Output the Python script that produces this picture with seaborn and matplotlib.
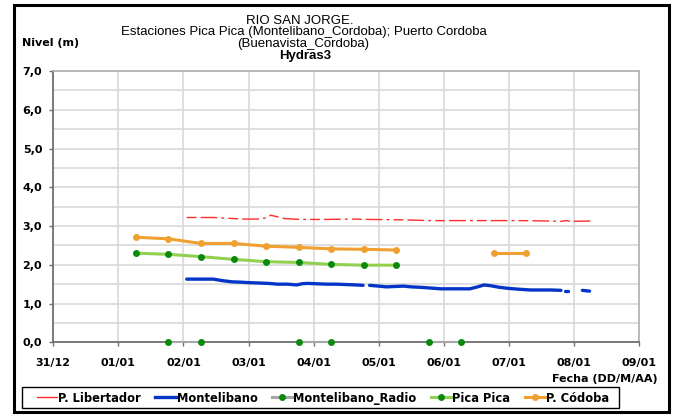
import matplotlib
matplotlib.use("Agg")
import matplotlib.pyplot as plt
from matplotlib.lines import Line2D
from matplotlib.patches import Rectangle
import pandas as pd
import seaborn as sns

# Axis labels (one x unit per labelled date tick)
date_labels = ["31/12", "01/01", "02/01", "03/01", "04/01",
               "05/01", "06/01", "07/01", "08/01", "09/01"]
level_labels = ["0,0", "1,0", "2,0", "3,0", "4,0", "5,0", "6,0", "7,0"]

# P. Córdoba (two separate runs)
cordoba_x = [1.27, 1.77, 2.27, 2.77, 3.27, 3.77, 4.27, 4.77, 5.27, 6.77, 7.27]
cordoba_y = [2.71, 2.67, 2.55, 2.55, 2.48, 2.45, 2.41, 2.40, 2.38, 2.30, 2.30]
cordoba_run = [0, 0, 0, 0, 0, 0, 0, 0, 0, 1, 1]

# Pica Pica
picapica_x = [1.27, 1.77, 2.27, 2.77, 3.27, 3.77, 4.27, 4.77, 5.27]
picapica_y = [2.30, 2.27, 2.21, 2.14, 2.08, 2.06, 2.01, 1.99, 1.99]

# Montelibano_Radio (pairs of readings)
radio_x = [1.77, 2.27, 3.77, 4.27, 5.77, 6.27]
radio_y = [0.0, 0.0, 0.0, 0.0, 0.0, 0.0]
radio_run = [0, 0, 1, 1, 2, 2]

# Montelibano
montelibano_x = [2.05, 2.20, 2.35, 2.46, 2.60, 2.75, 2.90, 3.00, 3.15, 3.30,
                 3.45, 3.60, 3.74, 3.82, 3.90, 4.05, 4.20, 4.35, 4.50, 4.65,
                 4.76,
                 4.86, 5.00, 5.12, 5.25, 5.38, 5.50, 5.63, 5.80, 5.95, 6.10,
                 6.25, 6.40, 6.52, 6.62, 6.72, 6.85, 7.00, 7.15, 7.33, 7.50,
                 7.65, 7.80,
                 7.86, 7.91,
                 8.13, 8.24]
montelibano_y = [1.63, 1.63, 1.63, 1.63, 1.59, 1.56, 1.55, 1.54, 1.53, 1.52,
                 1.50, 1.50, 1.48, 1.51, 1.52, 1.51, 1.50, 1.50, 1.49, 1.48,
                 1.47,
                 1.47, 1.45, 1.43, 1.44, 1.45, 1.43, 1.42, 1.40, 1.38, 1.38,
                 1.38, 1.38, 1.43, 1.48, 1.46, 1.42, 1.39, 1.37, 1.35, 1.35,
                 1.35, 1.34,
                 1.33, 1.33,
                 1.34, 1.32]
montelibano_run = [0] * 21 + [1] * 22 + [2] * 2 + [3] * 2

# P. Libertador
libertador_x = [2.05, 2.46, 2.90, 3.15, 3.30, 3.34, 3.56, 3.80, 4.20, 4.60,
                4.86, 5.37, 5.79, 6.00, 6.60, 7.17, 7.60, 7.80, 7.88, 7.95,
                8.25]
libertador_y = [3.22, 3.22, 3.18, 3.18, 3.22, 3.28, 3.19, 3.17, 3.17, 3.18,
                3.17, 3.16, 3.14, 3.14, 3.14, 3.14, 3.13, 3.12, 3.14, 3.12,
                3.13]

RED = "#ff2a2a"
BLUE = "#0535c8"
GRAY = "#a6a6a6"
DKGREEN = "#0a8a0a"
LTGREEN = "#92d050"
ORANGE = "#f0a030"

bold = {"family": "DejaVu Sans", "weight": "bold"}

fig = plt.figure(figsize=(6.73, 4.15), dpi=100)
W, H = 673.0, 415.0
ax = fig.add_axes([53.3 / W, 1 - 342.3 / H, (639 - 53.3) / W, (342.3 - 71) / H])

ax.set_xlim(0, 9)
ax.set_ylim(0, 7)
ax.set_xticks(range(len(date_labels)))
ax.set_xticklabels(date_labels, **bold, fontsize=8)
ax.set_yticks(range(len(level_labels)))
ax.set_yticklabels(level_labels, **bold, fontsize=8)
ax.set_yticks([i + 0.5 for i in range(7)], minor=True)
ax.grid(True, which="major", color="#d9d9d9", lw=1.2, zorder=0)
ax.grid(True, which="minor", axis="y", color="#d9d9d9", lw=1.2, zorder=0)
ax.set_axisbelow(True)
ax.tick_params(axis="both", which="major", direction="out", length=3,
               width=1, color="#707070")
ax.tick_params(axis="x", which="major", pad=8)
ax.tick_params(axis="y", which="major", pad=5)
ax.tick_params(axis="y", which="minor", length=0)
for side in ("left", "bottom"):
    ax.spines[side].set_color("#707070")
    ax.spines[side].set_linewidth(1.3)
for side in ("top", "right"):
    ax.spines[side].set_color("#b0b0b0")
    ax.spines[side].set_linewidth(1.2)

lib_df = pd.DataFrame({"x": libertador_x, "y": libertador_y})
sns.lineplot(data=lib_df, x="x", y="y", ax=ax, color=RED, lw=1.0,
             linestyle=(0, (7, 3, 12, 3, 2, 3)), sort=False, legend=False)

mon_df = pd.DataFrame({"x": montelibano_x, "y": montelibano_y,
                       "run": montelibano_run})
sns.lineplot(data=mon_df, x="x", y="y", units="run", estimator=None, ax=ax,
             color=BLUE, lw=2.4, sort=False, legend=False,
             solid_capstyle="round")

pic_df = pd.DataFrame({"x": picapica_x, "y": picapica_y})
sns.lineplot(data=pic_df, x="x", y="y", ax=ax, color=LTGREEN, lw=2.2,
             marker="o", markersize=5, markerfacecolor=DKGREEN,
             markeredgewidth=0, sort=False, legend=False)

cor_df = pd.DataFrame({"x": cordoba_x, "y": cordoba_y, "run": cordoba_run})
sns.lineplot(data=cor_df, x="x", y="y", units="run", estimator=None, ax=ax,
             color=ORANGE, lw=2.2, marker="o", markersize=5,
             markerfacecolor=ORANGE, markeredgewidth=0, sort=False,
             legend=False)

rad_df = pd.DataFrame({"x": radio_x, "y": radio_y, "run": radio_run})
sns.lineplot(data=rad_df, x="x", y="y", units="run", estimator=None, ax=ax,
             color=GRAY, lw=1.5, marker="o", markersize=5,
             markerfacecolor=DKGREEN, markeredgewidth=0, sort=False,
             legend=False, clip_on=False, zorder=4)
ax.set_xlabel("")
ax.set_ylabel("")

# Titles and axis captions
title_kw = dict(family="Liberation Sans", fontsize=9.5, ha="center",
                va="center")
fig.text(300 / W, 1 - 21 / H, "RIO SAN JORGE.", **title_kw)
fig.text(304 / W, 1 - 32 / H,
         "Estaciones Pica Pica (Montelibano_Cordoba); Puerto Cordoba",
         **title_kw)
fig.text(303 / W, 1 - 44 / H, "(Buenavista_Cordoba)", **title_kw)
fig.text(305 / W, 1 - 56 / H, "Hydras3", family="Liberation Sans",
         weight="bold", fontsize=9.5, ha="center", va="center")
fig.text(22 / W, 1 - 42.5 / H, "Nivel (m)", **bold, fontsize=8,
         ha="left", va="center")
fig.text(658 / W, 1 - 379 / H, "Fecha (DD/M/AA)", **bold, fontsize=8,
         ha="right", va="center")

# Legend entries, with the box drawn as its own frame
handles = [
    Line2D([], [], color=RED, lw=1.0),
    Line2D([], [], color=BLUE, lw=2.4),
    Line2D([], [], color=GRAY, lw=2.2, marker="o", markersize=5,
           markerfacecolor=DKGREEN, markeredgewidth=0),
    Line2D([], [], color=LTGREEN, lw=2.2, marker="o", markersize=5,
           markerfacecolor=DKGREEN, markeredgewidth=0),
    Line2D([], [], color=ORANGE, lw=2.2, marker="o", markersize=5,
           markerfacecolor=ORANGE, markeredgewidth=0),
]
labels = ["P. Libertador", "Montelibano", "Montelibano_Radio", "Pica Pica",
          "P. Códoba"]
fig.legend(handles, labels, ncol=5, loc="center left",
           bbox_to_anchor=(37 / W, 1 - 398 / H),
           prop={"family": "DejaVu Sans", "weight": "bold", "size": 8.3},
           frameon=False, borderpad=0, handlelength=1.75,
           handletextpad=0.1, columnspacing=1.25, borderaxespad=0)
fig.patches.append(Rectangle((22 / W, 1 - 408 / H), 597 / W, 21 / H,
                             transform=fig.transFigure, fill=False,
                             edgecolor="black", lw=1.0))

# Outer chart border
fig.patches.append(Rectangle((14 / W, 1 - 412 / H), 655 / W, 407 / H,
                             transform=fig.transFigure, fill=False,
                             edgecolor="black", lw=2.2))

fig.savefig("out.png", dpi=100)
